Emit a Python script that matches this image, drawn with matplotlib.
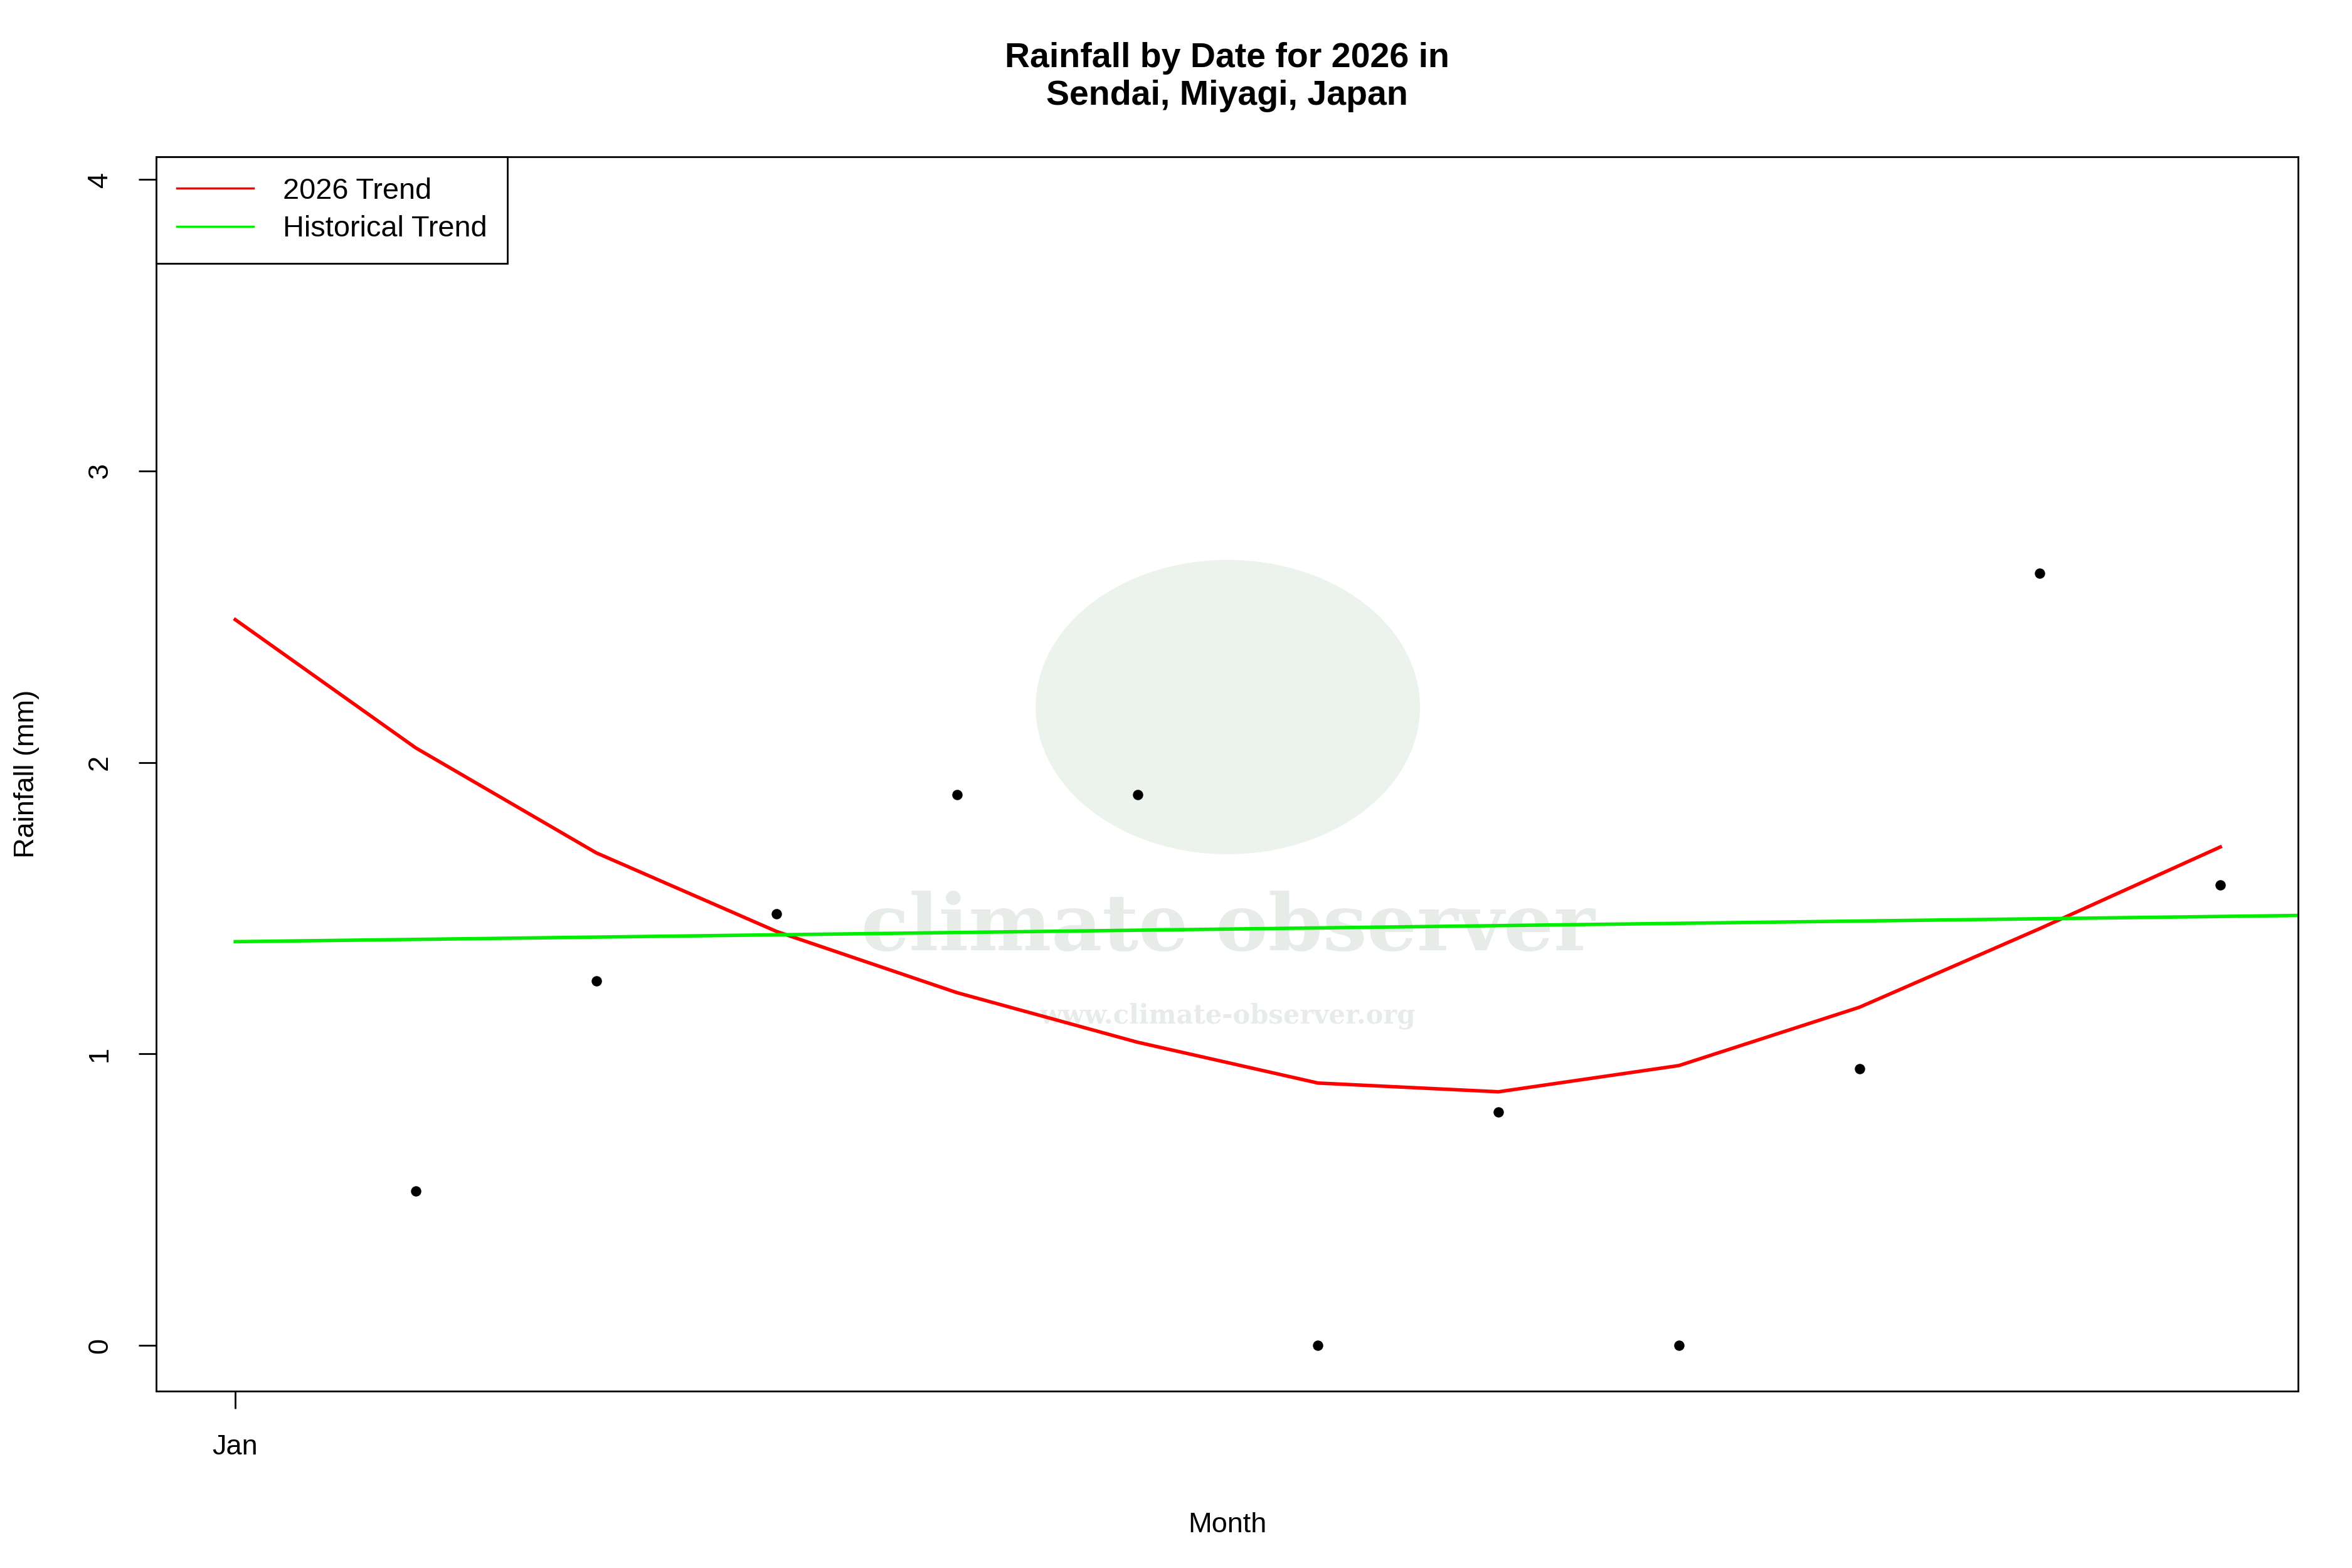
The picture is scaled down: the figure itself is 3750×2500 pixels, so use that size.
import matplotlib
matplotlib.use("Agg")
import matplotlib.pyplot as plt
from matplotlib.patches import Ellipse

plt.rcParams['font.family'] = ['Liberation Sans', 'DejaVu Sans']

point_x = [1, 2, 3, 4, 5, 6, 7, 8, 9, 10, 11]
point_y = [0.53, 1.25, 1.48, 1.89, 1.89, 0.0, 0.80, 0.0, 0.95, 2.65, 1.58]
trend_x = [0, 1, 2, 3, 4, 5, 6, 7, 8, 9, 10, 11]
trend_y = [2.49, 2.05, 1.69, 1.42, 1.21, 1.04, 0.90, 0.87, 0.96, 1.16, 1.43, 1.71]
hist_x = [0, 11.43]
hist_y = [1.385, 1.475]
xtick_pos = [0]
xtick_labels = ["Jan"]
ytick_pos = [0, 1, 2, 3, 4]

fig = plt.figure(figsize=(15, 10), dpi=250)
ax = fig.add_axes([0.0665, 0.113, 0.9105, 0.787])
ax.set_xlim(-0.437, 11.43)
ax.set_ylim(-0.156, 4.078)

ax.add_patch(Ellipse((5.5, 2.19), 2.13, 1.01, color='#e8efe8', alpha=0.8, zorder=0, lw=0))
ax.text(5.5, 1.43, "climate observer", ha='center', va='center', fontsize=36,
        fontweight='bold', color='#e8ece8', family='DejaVu Serif', zorder=0)
ax.text(5.5, 1.13, "www.climate-observer.org", ha='center', va='center', fontsize=12,
        fontweight='bold', color='#e8ece8', family='DejaVu Serif', zorder=0)

ax.plot(trend_x, trend_y, color='red', lw=1.6, label='2026 Trend')
ax.plot(hist_x, hist_y, color='#00ee00', lw=1.6, label='Historical Trend')
ax.scatter(point_x, point_y, s=14, color='black', zorder=3)

ax.set_xticks(xtick_pos)
ax.set_xticklabels(xtick_labels, fontsize=13)
ax.set_yticks(ytick_pos)
ax.set_yticklabels([str(v) for v in ytick_pos], fontsize=13, rotation=90, va='center')
ax.tick_params(length=8, width=0.8, pad=12)
ax.set_xlabel("Month", fontsize=13, labelpad=24)
ax.set_ylabel("Rainfall (mm)", fontsize=13, labelpad=22)
ax.set_title("Rainfall by Date for 2026 in\nSendai, Miyagi, Japan", fontsize=16,
             fontweight='bold', pad=24)
for s in ax.spines.values():
    s.set_linewidth(0.8)
leg = ax.legend(loc='upper left', fontsize=13.5, fancybox=False, edgecolor='black',
                framealpha=1, borderaxespad=0, handlelength=2.6, borderpad=0.7,
                labelspacing=0.35, handletextpad=1.0)
leg.get_frame().set_linewidth(0.8)
for l in leg.get_lines():
    l.set_linewidth(1.0)

fig.savefig("out.png", dpi=250)
